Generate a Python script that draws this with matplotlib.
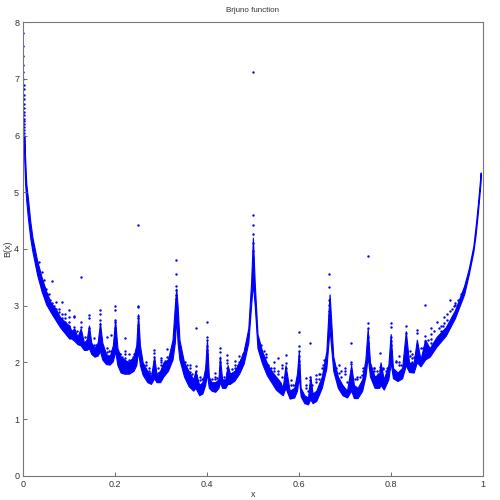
import matplotlib
matplotlib.use("Agg")
import matplotlib.pyplot as plt

plt.rcParams['font.family'] = ['Liberation Sans', 'DejaVu Sans']

# --- dense part of the curve: x, lower edge, upper edge ---
band_x = [.002, .004, .0065, .01, .015, .02, .03, .04, .05, .06, .07, .08, .09, .1, .105, .111, .118, .125,
          .132, .138, .143, .148, .155, .162, .167, .172, .18, .188, .195, .2, .205, .212, .22, .23, .24,
          .246, .25, .254, .26, .27, .278, .285, .29, .298, .305, .315, .325, .33, .333, .336, .34, .35,
          .36, .37, .375, .383, .39, .396, .4, .404, .41, .418, .425, .428, .433, .44, .445, .45, .46,
          .47, .48, .49, .496, .5, .504, .51, .52, .53, .54, .55, .56, .565, .571, .58, .59, .596, .6,
          .604, .612, .62, .625, .63, .638, .65, .66, .664, .667, .67, .675, .685, .695, .705, .714,
          .72, .728, .738, .745, .75, .755, .765, .775, .778, .785, .795, .8, .805, .815, .825, .833,
          .84, .85, .857, .865, .875, .885, .9, .92, .94, .96, .97, .98, .985, .99, .996]
band_low = [5.6, 5.15, 4.85, 4.55, 4.2, 3.95, 3.55, 3.25, 3.02, 2.88, 2.75, 2.62, 2.52, 2.42, 2.42, 2.38, 2.32, 2.3,
            2.22, 2.22, 2.25, 2.15, 2.1, 2.12, 2.2, 2.05, 1.97, 1.96, 2.02, 2.2, 1.95, 1.82, 1.8, 1.8, 1.85,
            1.95, 2.2, 1.95, 1.78, 1.65, 1.62, 1.72, 1.65, 1.65, 1.75, 1.85, 2.05, 2.35, 2.8, 2.35, 2.05, 1.75,
            1.58, 1.5, 1.55, 1.42, 1.45, 1.6, 1.8, 1.55, 1.5, 1.48, 1.55, 1.65, 1.55, 1.55, 1.62, 1.62, 1.68,
            1.8, 1.98, 2.35, 3.0, 3.4, 3.0, 2.25, 1.98, 1.78, 1.65, 1.52, 1.45, 1.42, 1.55, 1.36, 1.38, 1.5, 1.75,
            1.4, 1.28, 1.26, 1.35, 1.28, 1.32, 1.55, 1.9, 2.3, 2.6, 2.3, 1.85, 1.55, 1.42, 1.38, 1.5,
            1.37, 1.37, 1.5, 1.75, 2.1, 1.75, 1.55, 1.55, 1.6, 1.52, 1.7, 2.0, 1.72, 1.67, 1.72, 1.95,
            1.83, 1.82, 2.0, 1.93, 2.05, 2.1, 2.28, 2.47, 2.78, 3.2, 3.55, 3.95, 4.25, 4.65, 5.2]
band_high = [6.0, 5.6, 5.15, 4.9, 4.5, 4.2, 3.8, 3.5, 3.25, 3.05, 2.95, 2.8, 2.72, 2.65, 2.55, 2.6, 2.45, 2.6,
             2.35, 2.4, 2.65, 2.35, 2.25, 2.35, 2.7, 2.35, 2.15, 2.1, 2.3, 2.75, 2.25, 2.1, 2.05, 2.0, 2.1,
             2.3, 2.85, 2.3, 2.0, 1.85, 1.75, 2.1, 1.8, 1.85, 2.0, 2.05, 2.4, 3.0, 3.3, 3.0, 2.4, 2.0,
             1.85, 1.7, 1.85, 1.6, 1.65, 1.9, 2.4, 1.75, 1.65, 1.65, 1.7, 2.1, 1.7, 1.7, 1.95, 1.8, 1.85,
             2.0, 2.2, 2.6, 3.4, 4.2, 3.4, 2.5, 2.2, 2.0, 1.85, 1.75, 1.65, 1.55, 1.95, 1.5, 1.55, 1.8, 2.2,
             1.55, 1.42, 1.38, 1.75, 1.45, 1.5, 1.75, 2.2, 2.8, 3.2, 2.8, 2.1, 1.75, 1.6, 1.5, 1.95,
             1.6, 1.55, 1.7, 2.05, 2.6, 2.0, 1.75, 1.8, 2.0, 1.7, 1.95, 2.5, 1.9, 1.82, 1.9, 2.55,
             2.0, 1.98, 2.4, 2.05, 2.4, 2.25, 2.45, 2.62, 2.92, 3.35, 3.65, 4.05, 4.4, 4.8, 5.35]

# --- dots on the left wall next to x = 0 ---
wall_x = [.0002, .0002, .0003, .0003, .0004, .0004, .0005, .0006, .0006, .0007, .0007, .0008, .0008, .0009,
          .001, .001, .0011, .0011, .0012, .0013, .0014, .0015, .0016, .0018, .002, .0022, .0025]
wall_y = [7.82, 7.59, 7.41, 7.25, 7.13, 7.0, 6.9, 6.82, 6.72, 6.64, 6.56, 6.48, 6.42, 6.36,
          6.3, 6.25, 6.2, 6.15, 6.1, 6.05, 6.0, 5.95, 5.9, 5.85, 5.8, 5.75, 5.7]

# --- vertical runs of dots above the cusps ---
spike_x = [.111, .125, .143, .1667, .2, .25, .2857, .3333, .375, .4, .4286, .4444, .5,
           .5714, .6, .625, .6667, .7143, .75, .7778, .8, .8333, .8571, .875, .8889]
spike_y = [[2.82, 2.8, 2.62],
           [2.72, 2.62, 2.5],
           [2.83, 2.78, 2.6, 2.52],
           [2.92, 2.85, 2.75, 2.68],
           [2.99, 2.92, 2.74, 2.71, 2.6, 2.52, 2.45],
           [3.0, 2.98, 2.82, 2.78, 2.66, 2.6, 2.55, 2.48, 2.42],
           [2.22, 2.17, 2.1, 2.03, 1.95],
           [3.8, 3.56, 3.34, 3.27, 3.18, 3.12, 3.05, 3.0, 2.93],
           [1.94, 1.85, 1.78],
           [2.72, 2.44, 2.4, 2.28, 2.22, 2.15, 2.1, 2.03, 1.97],
           [2.26, 2.19, 2.08, 2.0, 1.9],
           [2.13, 2.05, 1.98, 1.9, 1.82],
           [7.13, 4.6, 4.42, 4.26, 4.1, 3.97, 3.85, 3.75, 3.65, 3.55, 3.45],
           [2.13, 1.98, 1.9, 1.8, 1.7],
           [2.53, 2.28, 2.2, 2.12, 2.03, 1.95],
           [2.35, 1.75, 1.68, 1.6],
           [3.56, 3.33, 3.1, 3.02, 2.9, 2.83, 2.75, 2.68],
           [2.34, 2.0, 1.97, 1.87, 1.8],
           [3.88, 2.7, 2.6, 2.45, 2.35, 2.27, 2.18, 2.1],
           [2.17, 1.92, 1.87, 1.78],
           [2.7, 2.63, 2.45, 2.38, 2.3, 2.2, 2.12],
           [2.65, 2.52, 2.33, 2.26, 2.18, 2.1],
           [2.57, 2.52, 2.3, 2.25, 2.15],
           [3.02, 2.47, 2.38, 2.32, 2.22],
           [2.6, 2.5, 2.42, 2.35]]

# --- lone dots ---
lone_x = [.0333, .05, .0556, .0625, .0714, .0769, .0833, .0909, .1, .125, .1538, .1818, .1905, .2222,
          .2105, .2308, .25, .3125, .3, .3077, .3636, .375, .3846, .4167, .4545, .4615, .4706, .5294,
          .5455, .5556, .5625, .5833, .6154, .6364, .6875, .7, .7273, .7647, .7826, .8182, .8125,
          .8462, .8667, .9, .9091, .9167, .9231, .9286, .9375, .9412]
lone_y = [3.77, 3.17, 3.2, 3.44, 3.07, 2.95, 3.07, 2.85, 2.92, 3.5, 2.43, 2.44, 2.48, 2.43,
          2.15, 2.14, 4.42, 2.24, 2.08, 2.02, 1.96, 2.6, 1.75, 1.82, 1.88, 2.03, 2.11, 2.15,
          2.0, 2.07, 1.95, 1.68, 1.72, 1.78, 1.95, 1.85, 1.75, 1.9, 1.88, 2.12, 2.02,
          2.0, 2.25, 2.72, 2.65, 2.8, 2.85, 3.1, 3.0, 3.05]

# --- smaller dots just above the dense part ---
fuzz_x = [.0417, .0455, .05, .0526, .0588, .0625, .0667, .0714, .0769, .0833, .0833, .0909, .0909, .1, .1, .1,
          .1053, .1176, .1333, .1538, .1579, .1765, .1818, .1818, .1875, .1875, .1905, .1923, .2105, .2105,
          .2143, .2143, .2222, .2222, .2222, .2273, .2308, .2353, .2381, .2381, .2414, .2667, .2667, .2727,
          .2727, .2759, .2941, .3, .3, .3, .3077, .3125, .3158, .3182, .3214, .3226, .3462, .3529, .3571,
          .3636, .3636, .3684, .3846, .3889, .4118, .4167, .4167, .4211, .4375, .4545, .4545, .4615, .4615,
          .4667, .4706, .4737, .4783, .4828, .4839, .5172, .5238, .5294, .5333, .5385, .5385, .5455, .5455,
          .5556, .5556, .5625, .5625, .5833, .5882, .5909, .6154, .6154, .6207, .6296, .6364, .6364, .6429,
          .6429, .6471, .65, .6522, .6552, .6818, .6875, .6923, .6923, .7, .7, .7059, .7222, .7273, .7333,
          .7368, .7391, .7407, .7647, .7647, .7692, .7727, .7826, .7895, .7917, .8182, .8182, .8235, .8125,
          .8421, .8421, .8462, .8462, .85, .8696, .8824, .8947, .9048, .9091, .913, .9167, .9231, .9286,
          .9333, .9412, .9474, .9524]
fuzz_y = [3.6, 3.45, 3.3, 3.2, 3.1, 3.05, 3.0, 2.95, 2.88, 2.85, 2.78, 2.78, 2.72, 2.8, 2.72, 2.65,
          2.55, 2.55, 2.45, 2.3, 2.3, 2.2, 2.25, 2.18, 2.2, 2.12, 2.2, 2.15, 2.15, 2.08,
          2.1, 2.05, 2.2, 2.15, 2.08, 2.0, 2.05, 2.05, 2.1, 2.05, 2.15, 2.0, 1.95, 1.9,
          1.85, 1.82, 1.9, 2.05, 2.0, 1.95, 1.95, 2.1, 2.05, 2.1, 2.2, 2.22, 2.08, 2.0, 1.95,
          1.9, 1.83, 1.8, 1.68, 1.7, 1.7, 1.75, 1.7, 1.72, 1.75, 1.8, 1.75, 1.95, 1.9,
          1.95, 2.0, 2.05, 2.15, 2.25, 2.3, 2.3, 2.2, 2.1, 1.95, 1.9, 1.85, 1.85, 1.9,
          1.85, 1.8, 1.9, 1.75, 1.6, 1.6, 1.6, 1.6, 1.55, 1.5, 1.6, 1.7, 1.65, 1.8,
          1.7, 1.8, 1.9, 1.95, 2.05, 1.9, 1.82, 1.85, 1.75, 1.9, 1.8, 1.65, 1.7, 1.7, 1.75,
          1.78, 1.85, 1.9, 1.9, 1.85, 1.85, 1.8, 1.9, 1.85, 1.9, 2.0, 1.95, 1.95, 2.0,
          2.2, 2.12, 2.15, 2.08, 2.1, 2.25, 2.4, 2.55, 2.6, 2.55, 2.65, 2.7, 2.75, 2.9,
          2.95, 3.02, 3.1, 3.2]

fig = plt.figure(figsize=(5, 5), dpi=100)
ax = fig.add_axes([0.0466, 0.0486, 0.9184, 0.9068])

blue = '#0000ff'
dot = 3
ax.fill_between(band_x, band_low, band_high, color=blue, linewidth=0.8)
ax.scatter(wall_x, wall_y, s=dot, color=blue, linewidths=0)
for x, ys in zip(spike_x, spike_y):
    ax.scatter([x] * len(ys), ys, s=dot, color=blue, linewidths=0)
ax.scatter(lone_x, lone_y, s=dot, color=blue, linewidths=0)
ax.scatter(fuzz_x, fuzz_y, s=dot, color=blue, linewidths=0)

ax.set_xlim(0, 1)
ax.set_ylim(0, 8)
ax.set_xticks([0, 0.2, 0.4, 0.6, 0.8, 1])
ax.set_xticklabels(['0', '0.2', '0.4', '0.6', '0.8', '1'])
ax.set_yticks(range(9))
ax.tick_params(direction='in', length=3, width=0.6, color='#555555', labelcolor='#333333',
               labelsize=6.5, pad=3)
for side in ax.spines:
    ax.spines[side].set_color('#777777')
    ax.spines[side].set_linewidth(0.8)

ax.set_title('Brjuno function', fontsize=5.8, color='#333333', pad=7.5)
ax.set_xlabel('x', fontsize=6.5, color='#333333', labelpad=1)
ax.set_ylabel('B(x)', fontsize=6.5, color='#333333', labelpad=1)

fig.savefig('out.png', dpi=100)
